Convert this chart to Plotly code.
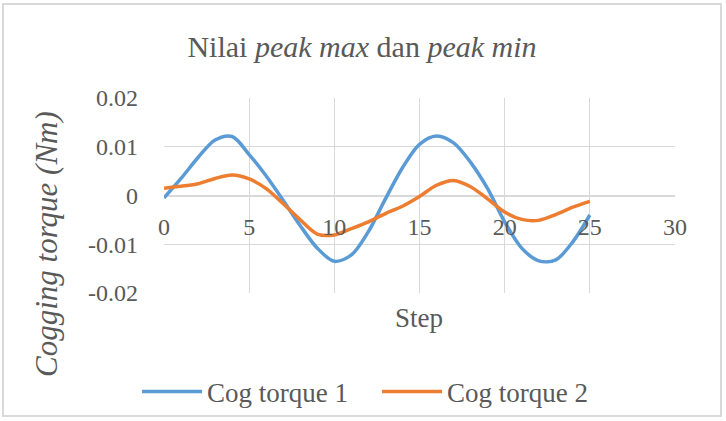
import plotly.graph_objects as go

# ---- data ----
steps = list(range(26))
cog_torque_1 = [-0.0005, 0.0035, 0.0078, 0.0114, 0.0121, 0.0084, 0.0040, -0.0010,
                -0.0062, -0.0108, -0.0135, -0.0122, -0.0074, -0.0007, 0.0057, 0.0105,
                0.0122, 0.0108, 0.0068, 0.0014, -0.0054, -0.0108, -0.0134, -0.0132,
                -0.0095, -0.0040]
cog_torque_2 = [0.0015, 0.0019, 0.0024, 0.0035, 0.0042, 0.0034, 0.0014, -0.0017,
                -0.0050, -0.0079, -0.0081, -0.0068, -0.0054, -0.0037, -0.0022, -0.0002,
                0.0021, 0.0031, 0.0018, -0.0007, -0.0034, -0.0049, -0.0051, -0.0039,
                -0.0024, -0.0012]
series_names = ["Cog torque 1", "Cog torque 2"]
x_ticks = [0, 5, 10, 15, 20, 25, 30]
y_ticks = [-0.02, -0.01, 0, 0.01, 0.02]
y_tick_text = ["-0.02", "-0.01", "0", "0.01", "0.02"]

FONT = "Liberation Serif"
TXT = "#595959"
GRID = "#d9d9d9"

fig = go.Figure()
fig.add_trace(go.Scatter(x=steps, y=cog_torque_1, mode="lines", name=series_names[0],
                         line=dict(color="#5B9BD5", width=3.5, shape="spline", smoothing=0.9)))
fig.add_trace(go.Scatter(x=steps, y=cog_torque_2, mode="lines", name=series_names[1],
                         line=dict(color="#ED7D31", width=3.5, shape="spline", smoothing=0.9)))

W, H = 726, 421
L, R, T, B = 164, 51, 98, 128
pw, ph = W - L - R, H - T - B

def px_x(p):
    return (p - L) / pw

def px_y(p):
    return (H - B - p) / ph

fig.update_layout(
    width=W, height=H,
    margin=dict(l=L, r=R, t=T, b=B),
    paper_bgcolor="white", plot_bgcolor="white",
    title=dict(text="Nilai <i>peak max</i> dan <i>peak min</i>",
               font=dict(family=FONT, size=30, color=TXT),
               xref="container", x=362 / W, xanchor="center",
               yref="container", y=1 - 46 / H, yanchor="middle"),
    showlegend=True,
    legend=dict(orientation="h", xref="container", x=377 / W, xanchor="center",
                yref="container", y=1 - 392 / H, yanchor="middle",
                font=dict(family=FONT, size=27, color=TXT),
                itemwidth=60, entrywidth=165, bgcolor="rgba(0,0,0,0)"),
    xaxis=dict(range=[0, 30], tickvals=x_ticks, ticktext=[str(v) for v in x_ticks],
               showgrid=True, gridcolor=GRID, gridwidth=1,
               showline=False, zeroline=False,
               anchor="free", position=0.5,
               ticks="", ticklabelstandoff=14,
               tickfont=dict(family=FONT, size=24, color=TXT)),
    yaxis=dict(range=[-0.02, 0.02], tickvals=y_ticks, ticktext=y_tick_text,
               showgrid=True, gridcolor=GRID, gridwidth=1,
               zeroline=True, zerolinecolor=GRID, zerolinewidth=1.5,
               showline=False, ticks="", ticklabelstandoff=25,
               tickfont=dict(family=FONT, size=24, color=TXT)),
)

# x-axis title
fig.add_annotation(text="Step", xref="paper", yref="paper", x=px_x(419), y=px_y(318),
                   xanchor="center", yanchor="middle", showarrow=False,
                   font=dict(family=FONT, size=27, color=TXT))
# y-axis title
fig.add_annotation(text="<i>Cogging torque (Nm)</i>", xref="paper", yref="paper",
                   x=px_x(46), y=px_y(244), xanchor="center", yanchor="middle",
                   textangle=-90, showarrow=False,
                   font=dict(family=FONT, size=31, color=TXT))

# chart border
fig.add_shape(type="rect", xref="paper", yref="paper",
              x0=px_x(3), x1=px_x(721), y0=px_y(416), y1=px_y(4),
              line=dict(color=GRID, width=2), fillcolor="rgba(0,0,0,0)", layer="below")

fig.write_html("out.html")
